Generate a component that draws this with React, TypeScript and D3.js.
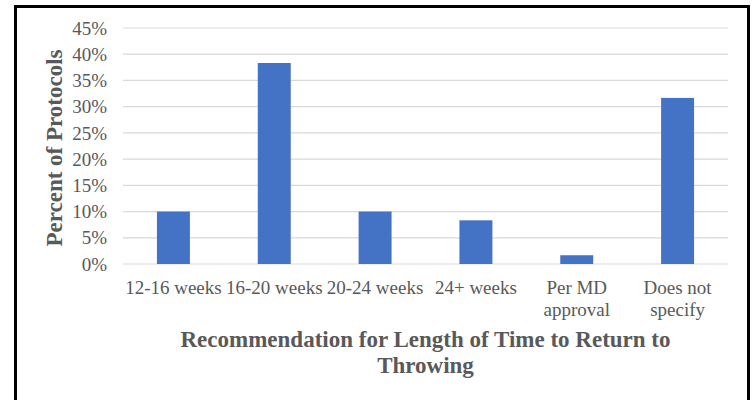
import React from "react";
import * as d3 from "d3";

// Share of protocols by recommended time before returning to throwing
const categories: string[][] = [
  ["12-16 weeks"],
  ["16-20 weeks"],
  ["20-24 weeks"],
  ["24+ weeks"],
  ["Per MD", "approval"],
  ["Does not", "specify"],
];
const percents: number[] = [10, 38.33, 10, 8.33, 1.67, 31.67];
const yTicks: number[] = [0, 5, 10, 15, 20, 25, 30, 35, 40, 45];
const xTitle: string[] = ["Recommendation for Length of Time to Return to", "Throwing"];
const yTitle = "Percent of Protocols";

const W = 755;
const H = 400;
const plot = { left: 123, right: 728, top: 28, bottom: 264 };
const textColor = "#595959";
const barColor = "#4472C4";
const font = "'Liberation Serif', 'Times New Roman', serif";

export default function App() {
  const keys = categories.map((c) => c.join(" "));
  const x = d3
    .scaleBand<string>()
    .domain(keys)
    .range([plot.left, plot.right])
    .paddingInner(0.673)
    .paddingOuter(0.3365);
  const y = d3.scaleLinear().domain([0, 45]).range([plot.bottom, plot.top]);
  const fmt = (v: number) => `${v}%`;
  const cx = (plot.left + plot.right) / 2;
  const cy = (plot.top + plot.bottom) / 2 + 2;

  return (
    <svg
      width={W}
      height={H}
      viewBox={`0 0 ${W} ${H}`}
      style={{ position: "absolute", left: 0, top: 0, background: "#fff" }}
      fontFamily={font}
    >
      <rect x={0} y={0} width={W} height={H} fill="#fff" />
      {/* frame */}
      <path
        d={`M15.5,${H} V6.5 H748.5 V${H}`}
        fill="none"
        stroke="#000"
        strokeWidth={3}
      />
      {/* gridlines */}
      {yTicks.map((t) => (
        <line
          key={`g${t}`}
          x1={plot.left}
          x2={plot.right}
          y1={y(t)}
          y2={y(t)}
          stroke="#d9d9d9"
          strokeWidth={1.2}
        />
      ))}
      {/* y tick labels */}
      {yTicks.map((t) => (
        <text
          key={`t${t}`}
          x={107}
          y={y(t)}
          dy="0.35em"
          textAnchor="end"
          fontSize={19}
          fill={textColor}
        >
          {fmt(t)}
        </text>
      ))}
      {/* bars */}
      {percents.map((v, i) => (
        <rect
          key={`b${i}`}
          x={x(keys[i])}
          y={y(v)}
          width={x.bandwidth()}
          height={y(0) - y(v)}
          fill={barColor}
        />
      ))}
      {/* category labels */}
      {categories.map((lines, i) => (
        <text
          key={`c${i}`}
          x={(x(keys[i]) as number) + x.bandwidth() / 2}
          y={294}
          textAnchor="middle"
          fontSize={19}
          fill={textColor}
        >
          {lines.map((l, j) => (
            <tspan key={j} x={(x(keys[i]) as number) + x.bandwidth() / 2} dy={j === 0 ? 0 : 22}>
              {l}
            </tspan>
          ))}
        </text>
      ))}
      {/* x axis title */}
      <text textAnchor="middle" fontSize={23} fontWeight="bold" fill={textColor}>
        {xTitle.map((l, j) => (
          <tspan key={j} x={cx} y={347 + j * 26}>
            {l}
          </tspan>
        ))}
      </text>
      {/* y axis title */}
      <text
        transform={`translate(62,${cy}) rotate(-90)`}
        textAnchor="middle"
        fontSize={23}
        fontWeight="bold"
        fill={textColor}
      >
        {yTitle}
      </text>
    </svg>
  );
}
